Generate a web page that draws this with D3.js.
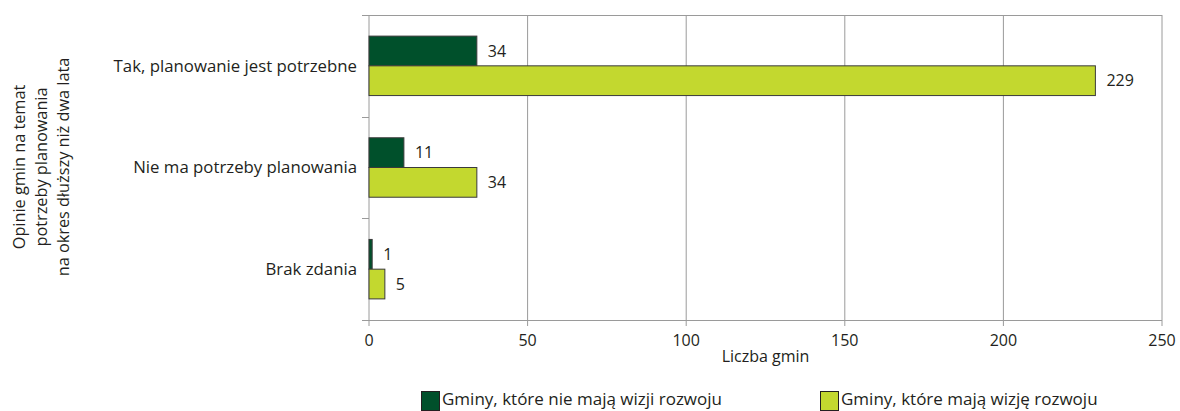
<!DOCTYPE html>
<html>
<head>
<meta charset="utf-8">
<script src="https://cdn.jsdelivr.net/npm/d3@7"></script>
<style>
  html, body { margin: 0; padding: 0; background: #fff; }
  svg { display: block; }
  .txt { font-family: "Open Sans", "Noto Sans", sans-serif; fill: #231f20; }
</style>
</head>
<body>
<svg id="chart" width="1180" height="411"></svg>
<script>
// Categories (top to bottom) and values per series
const categories = [
  "Tak, planowanie jest potrzebne",
  "Nie ma potrzeby planowania",
  "Brak zdania"
];
const seriesNames = [
  "Gminy, które nie mają wizji rozwoju",
  "Gminy, które mają wizję rozwoju"
];
const noVision = [34, 11, 1];
const withVision = [229, 34, 5];
const xTicks = [0, 50, 100, 150, 200, 250];
const yTitleLines = [
  "Opinie gmin na temat",
  "potrzeby planowania",
  "na okres dłuższy niż dwa lata"
];
const xTitle = "Liczba gmin";

const colors = ["#00502b", "#c3d82f"];
const svg = d3.select("#chart");

const plot = { left: 369, right: 1162, top: 15, bottom: 320 };

const x = d3.scaleLinear().domain([0, 250]).range([plot.left, plot.right]);
const y = d3.scaleBand().domain(categories).range([plot.top, plot.bottom]);
const inner = d3.scaleBand().domain([0, 1]).range([0, y.bandwidth()]).paddingOuter(0.71).paddingInner(0);

const grid = "#9a9a9a";

// vertical grid lines
svg.append("g").selectAll("line").data(xTicks).join("line")
  .attr("x1", d => x(d)).attr("x2", d => x(d))
  .attr("y1", plot.top).attr("y2", plot.bottom + 6)
  .attr("stroke", grid).attr("stroke-width", 1);

// top border
svg.append("line")
  .attr("x1", plot.left - 7).attr("x2", plot.right)
  .attr("y1", plot.top + 0.5).attr("y2", plot.top + 0.5)
  .attr("stroke", grid);

// bottom axis line
svg.append("line")
  .attr("x1", plot.left - 7).attr("x2", plot.right)
  .attr("y1", plot.bottom + 0.5).attr("y2", plot.bottom + 0.5)
  .attr("stroke", grid);

// category ticks on the left
const bandEdges = categories.map(c => y(c)).concat([plot.bottom]);
svg.append("g").selectAll("line").data(bandEdges).join("line")
  .attr("x1", plot.left - 7).attr("x2", plot.left)
  .attr("y1", d => Math.round(d) + 0.5).attr("y2", d => Math.round(d) + 0.5)
  .attr("stroke", grid);

// bars with value labels
const seriesValues = [noVision, withVision];
seriesValues.forEach((vals, s) => {
  const g = svg.append("g");
  g.selectAll("rect").data(categories).join("rect")
    .attr("x", x(0))
    .attr("y", c => y(c) + inner(s))
    .attr("width", (c, i) => x(vals[i]) - x(0))
    .attr("height", inner.bandwidth())
    .attr("fill", colors[s])
    .attr("stroke", "#3a3a3a")
    .attr("stroke-width", 1);
  g.selectAll("text").data(categories).join("text")
    .attr("class", "txt")
    .attr("font-size", 16)
    .attr("x", (c, i) => x(vals[i]) + 11)
    .attr("y", c => y(c) + inner(s) + inner.bandwidth() / 2)
    .attr("dy", "0.35em")
    .text((c, i) => vals[i]);
});

// category labels
svg.append("g").selectAll("text").data(categories).join("text")
  .attr("class", "txt")
  .attr("font-size", 16.8)
  .attr("x", plot.left - 12)
  .attr("y", c => y(c) + y.bandwidth() / 2)
  .attr("dy", "0.35em")
  .attr("text-anchor", "end")
  .text(d => d);

// x tick labels
svg.append("g").selectAll("text").data(xTicks).join("text")
  .attr("class", "txt")
  .attr("font-size", 16)
  .attr("x", d => x(d))
  .attr("y", 346)
  .attr("text-anchor", "middle")
  .text(d => d);

svg.append("text")
  .attr("class", "txt")
  .attr("font-size", 16)
  .attr("x", (plot.left + plot.right) / 2)
  .attr("y", 362)
  .attr("text-anchor", "middle")
  .text(xTitle);

// rotated y title
const yt = svg.append("text")
  .attr("class", "txt")
  .attr("font-size", 16.3)
  .attr("transform", "translate(19,167) rotate(-90)")
  .attr("text-anchor", "middle");
yt.selectAll("tspan").data(yTitleLines).join("tspan")
  .attr("x", 0)
  .attr("y", (d, i) => i * 22)
  .attr("dy", "0.35em")
  .text(d => d);

// legend
const legendX = [421, 820];
seriesNames.forEach((name, i) => {
  svg.append("rect")
    .attr("x", legendX[i] + 0.5).attr("y", 391.5)
    .attr("width", 18).attr("height", 19)
    .attr("fill", colors[i]).attr("stroke", "#231f20");
  svg.append("text")
    .attr("class", "txt")
    .attr("font-size", 17)
    .attr("x", legendX[i] + 21)
    .attr("y", 405)
    .text(name);
});
</script>
</body>
</html>
